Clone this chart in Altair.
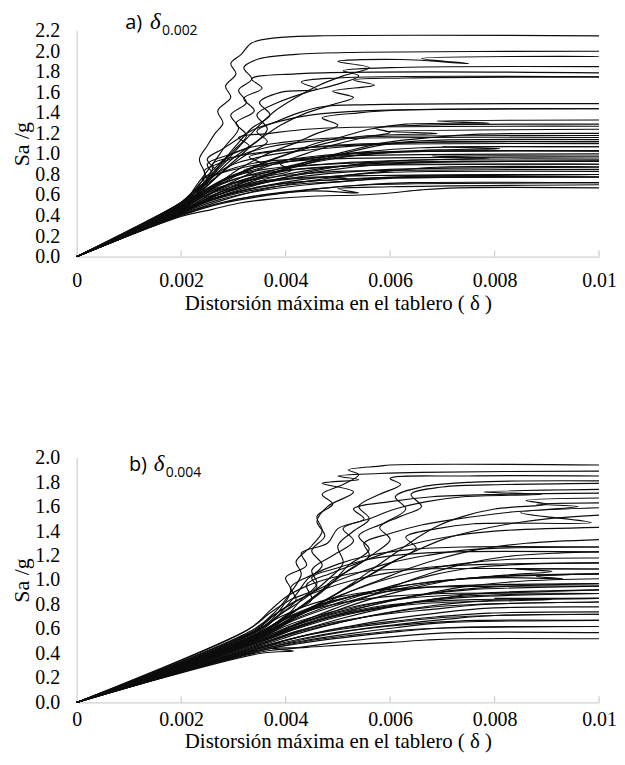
import altair as alt
import pandas as pd

# ---------------- data (x in units of 0.001, Sa/g) ----------------
X_TICKS = [0, 0.002, 0.004, 0.006, 0.008, 0.01]
Y_TICKS_A = [0, 0.2, 0.4, 0.6, 0.8, 1.0, 1.2, 1.4, 1.6, 1.8, 2.0, 2.2]
Y_TICKS_B = [0, 0.2, 0.4, 0.6, 0.8, 1.0, 1.2, 1.4, 1.6, 1.8, 2.0]
X_TITLE = "Distorsión máxima en el tablero ( δ )"
Y_TITLE = "Sa /g"

A01 = [(0,0),(2.1,0.52),(2.3,0.66),(2.45,0.8),(2.35,0.95),(2.5,1.08),(2.65,1.2),(2.8,1.3),(2.7,1.42),(2.95,1.55),(2.85,1.66),(3.05,1.78),(2.95,1.88),(3.15,1.97),(3.35,2.08),(3.8,2.13),(4.6,2.15),(10,2.15)]
A02 = [(0,0),(2.0,0.5),(2.3,0.7),(2.6,0.9),(2.85,1.08),(3.1,1.25),(2.95,1.38),(3.25,1.5),(3.1,1.62),(3.35,1.73),(3.2,1.84),(3.45,1.92),(4.2,1.97),(5.5,1.99),(10,2.0)]
A03 = [(0,0),(2.0,0.47),(2.5,0.74),(2.9,0.95),(3.2,1.12),(3.5,1.28),(3.8,1.42),(4.2,1.55),(4.6,1.66),(5.1,1.76),(5.6,1.84),(5.0,1.9),(6.2,1.92),(7.5,1.88),(6.6,1.93),(10,1.95)]
A04 = [(0,0),(2.0,0.46),(2.5,0.69),(2.9,0.88),(3.3,1.06),(3.65,1.24),(3.45,1.38),(3.85,1.5),(4.4,1.6),(5.0,1.68),(5.4,1.76),(5.1,1.81),(6.0,1.84),(10,1.85)]
A05 = [(0,0),(2.1,0.5),(2.4,0.67),(2.7,0.86),(3.0,1.03),(3.25,1.18),(3.05,1.3),(3.4,1.42),(3.2,1.54),(3.55,1.64),(3.35,1.73),(4.2,1.78),(10,1.79)]
A06 = [(0,0),(2.0,0.48),(2.6,0.77),(3.0,0.96),(3.5,1.14),(3.9,1.28),(4.4,1.4),(4.9,1.48),(5.3,1.55),(4.9,1.61),(5.7,1.67),(5.3,1.72),(6.3,1.74),(10,1.75)]
A07 = [(0,0),(2.0,0.47),(2.5,0.69),(2.9,0.87),(3.3,1.01),(3.65,1.12),(3.45,1.22),(3.85,1.32),(4.25,1.4),(4.7,1.46),(5.6,1.48),(10,1.49)]
A08 = [(0,0),(2.0,0.45),(2.6,0.67),(3.1,0.85),(3.6,0.99),(4.2,1.11),(4.6,1.2),(5.0,1.28),(4.7,1.35),(5.4,1.4),(6.4,1.43),(10,1.44)]
A09 = [(0,0),(2.0,0.46),(2.7,0.69),(3.4,0.87),(4.0,0.99),(4.5,1.09),(5.1,1.17),(5.6,1.24),(6.3,1.29),(7.9,1.3),(6.9,1.32),(10,1.33)]
A10 = [(0,0),(2.0,0.44),(2.8,0.68),(3.5,0.85),(4.2,0.97),(4.8,1.07),(5.5,1.16),(6.0,1.21),(5.7,1.25),(6.6,1.28),(10,1.29)]
A11 = [(0,0),(1.9,0.45),(2.5,0.65),(3.1,0.81),(3.7,0.94),(4.3,1.04),(4.9,1.12),(5.4,1.17),(6.9,1.2),(5.9,1.22),(10,1.24)]
A12 = [(0,0),(2.0,0.43),(2.8,0.64),(3.6,0.79),(4.4,0.92),(5.2,1.03),(5.9,1.11),(6.8,1.16),(7.6,1.19),(10,1.2)]
A13 = [(0,0),(2.0,0.5),(2.3,0.65),(2.6,0.8),(2.5,0.9),(2.9,0.99),(3.3,1.06),(3.9,1.11),(4.7,1.15),(5.8,1.17),(10,1.18)]
A14 = [(0,0),(2.0,0.42),(2.7,0.6),(3.4,0.74),(4.1,0.86),(4.8,0.96),(5.4,1.04),(6.0,1.1),(6.7,1.13),(10,1.14)]
A15 = [(0,0),(2.0,0.48),(2.5,0.65),(3.0,0.79),(3.6,0.89),(3.3,0.97),(4.0,1.04),(4.8,1.08),(6.4,1.11),(10,1.12)]
A16 = [(0,0),(2.0,0.44),(2.7,0.62),(3.4,0.76),(4.2,0.88),(5.0,0.96),(5.8,1.01),(6.9,1.04),(8.1,1.05),(7.0,1.07),(10,1.07)]
A17 = [(0,0),(2.0,0.46),(2.6,0.63),(3.2,0.75),(3.9,0.86),(4.6,0.94),(5.4,0.99),(6.3,1.02),(10,1.03)]
A18 = [(0,0),(2.0,0.43),(2.8,0.6),(3.6,0.72),(4.4,0.82),(5.2,0.89),(6.0,0.93),(7.9,0.96),(6.8,0.98),(10,0.98)]
A19 = [(0,0),(2.0,0.45),(2.7,0.6),(3.5,0.72),(4.3,0.8),(5.1,0.86),(5.9,0.9),(7.0,0.92),(10,0.93)]
A20 = [(0,0),(2.0,0.41),(2.8,0.55),(3.6,0.66),(4.5,0.74),(5.3,0.8),(6.1,0.84),(6.9,0.87),(10,0.875)]
A21 = [(0,0),(2.0,0.44),(2.7,0.58),(3.5,0.68),(4.3,0.75),(5.1,0.79),(5.9,0.82),(6.9,0.83),(10,0.83)]
A22 = [(0,0),(2.0,0.42),(2.7,0.55),(3.5,0.64),(4.4,0.7),(5.3,0.74),(6.2,0.77),(10,0.775)]
A23 = [(0,0),(2.0,0.4),(2.8,0.52),(3.7,0.6),(4.6,0.66),(5.5,0.7),(6.4,0.72),(10,0.72)]
A24 = [(0,0),(2.0,0.39),(2.6,0.46),(3.1,0.52),(3.7,0.56),(4.6,0.59),(5.4,0.6),(6.0,0.62),(6.6,0.65),(7.3,0.67),(10,0.67)]
A25 = [(0,0),(2.0,0.41),(2.8,0.53),(3.6,0.6),(4.5,0.64),(5.4,0.62),(5.0,0.66),(6.0,0.68),(10,0.7)]
A26 = [(0,0),(2.0,0.47),(2.5,0.6),(3.0,0.68),(3.6,0.74),(4.3,0.77),(5.6,0.79),(10,0.8)]
A27 = [(0,0),(2.0,0.5),(2.4,0.62),(2.9,0.7),(3.5,0.76),(4.2,0.8),(5.0,0.83),(6.0,0.84),(10,0.85)]
A28 = [(0,0),(2.0,0.52),(2.4,0.64),(2.8,0.72),(3.3,0.79),(4.0,0.84),(4.8,0.87),(5.7,0.89),(10,0.9)]
A29 = [(0,0),(2.0,0.48),(2.5,0.64),(3.0,0.75),(3.6,0.83),(4.3,0.88),(5.3,0.92),(6.4,0.94),(7.5,0.95),(10,0.95)]
A30 = [(0,0),(2.0,0.53),(2.3,0.66),(2.6,0.78),(3.0,0.86),(3.5,0.92),(4.2,0.95),(5.0,0.98),(10,1.0)]
A31 = [(0,0),(2.0,0.51),(2.35,0.66),(2.7,0.8),(2.6,0.9),(3.0,0.97),(3.6,1.02),(4.4,1.06),(5.6,1.09),(10,1.1)]
A32 = [(0,0),(2.0,0.52),(2.3,0.68),(2.6,0.84),(2.9,0.98),(3.3,1.08),(3.1,1.16),(3.7,1.2),(4.4,1.24),(5.3,1.26),(10,1.27)]
A33 = [(0,0),(2.1,0.55),(2.4,0.7),(2.6,0.86),(2.5,0.95),(2.8,1.05),(3.1,1.15),(3.4,1.24),(3.9,1.32),(4.5,1.38),(5.5,1.42),(10,1.44)]
A34 = [(0,0),(2.0,0.49),(2.3,0.6),(2.7,0.72),(3.2,0.81),(3.9,0.87),(4.8,0.9),(5.9,0.92),(10,0.93)]
A35 = [(0,0),(2.0,0.45),(2.5,0.58),(3.1,0.68),(3.8,0.74),(4.6,0.77),(5.2,0.76),(4.9,0.78),(5.8,0.79),(10,0.8)]
A36 = [(0,0),(2.0,0.43),(2.6,0.56),(3.3,0.66),(4.1,0.72),(5.0,0.75),(5.8,0.77),(10,0.775)]
A37 = [(0,0),(2.0,0.5),(2.4,0.7),(2.75,0.9),(3.05,1.08),(3.35,1.25),(3.7,1.38),(3.5,1.5),(3.9,1.6),(4.6,1.63),(4.3,1.7),(5.0,1.74),(10,1.75)]
A38 = [(0,0),(2.0,0.5),(2.2,0.6),(2.5,0.7),(2.4,0.76),(2.8,0.82),(3.3,0.88),(3.9,0.92),(4.7,0.95),(10,0.97)]
A39 = [(0,0),(2.0,0.47),(2.4,0.6),(2.9,0.7),(3.4,0.78),(3.2,0.84),(3.8,0.9),(4.5,0.96),(5.3,1.0),(6.2,1.02),(10,1.03)]
A40 = [(0,0),(2.0,0.44),(2.5,0.56),(3.0,0.65),(3.6,0.72),(4.3,0.78),(5.1,0.82),(6.0,0.85),(10,0.87)]
A41 = [(0,0),(2.0,0.46),(2.4,0.58),(2.9,0.68),(3.5,0.77),(4.1,0.84),(3.9,0.9),(4.6,0.96),(5.5,1.02),(6.6,1.06),(10,1.07)]
A42 = [(0,0),(2.0,0.42),(2.5,0.54),(3.1,0.63),(3.8,0.7),(4.6,0.74),(5.5,0.76),(6.3,0.78),(10,0.8)]
A43 = [(0,0),(2.0,0.51),(2.25,0.62),(2.5,0.74),(2.45,0.84),(2.8,0.92),(3.2,1.0),(3.7,1.07),(4.4,1.12),(5.2,1.15),(10,1.16)]
A44 = [(0,0),(2.0,0.45),(2.6,0.58),(3.2,0.69),(3.9,0.79),(4.7,0.86),(5.5,0.9),(6.5,0.92),(7.4,0.93),(10,0.93)]
A45 = [(0,0),(2.0,0.4),(2.6,0.5),(3.3,0.58),(4.0,0.63),(4.8,0.67),(5.6,0.7),(6.5,0.71),(10,0.72)]
A46 = [(0,0),(2.0,0.49),(2.4,0.63),(2.8,0.75),(3.3,0.85),(3.9,0.93),(4.6,0.98),(5.4,1.01),(6.8,1.03),(10,1.03)]
A47 = [(0,0),(2.0,0.48),(2.5,0.62),(3.0,0.72),(3.6,0.8),(4.4,0.86),(5.3,0.89),(6.2,0.9),(10,0.9)]
A48 = [(0,0),(2.0,0.53),(2.2,0.62),(2.45,0.72),(2.7,0.82),(3.0,0.9),(3.5,0.97),(4.1,1.02),(4.9,1.06),(6.0,1.1),(7.3,1.12),(10,1.12)]
A49 = [(0,0),(2.0,0.43),(2.6,0.55),(3.3,0.64),(4.1,0.7),(5.0,0.73),(5.9,0.76),(7.0,0.77),(10,0.775)]

B01 = [(0,0),(3.4,0.6),(3.8,0.74),(4.1,0.9),(4.3,1.05),(4.2,1.15),(4.5,1.28),(4.7,1.4),(4.6,1.52),(4.9,1.62),(4.7,1.7),(5.1,1.78),(5.4,1.86),(5.2,1.9),(5.8,1.93),(6.0,1.94),(10,1.94)]
B02 = [(0,0),(3.5,0.58),(3.9,0.73),(4.2,0.88),(4.4,1.0),(4.7,1.12),(4.5,1.24),(4.75,1.36),(4.6,1.48),(4.8,1.6),(5.3,1.72),(4.7,1.79),(5.4,1.82),(5.0,1.85),(5.8,1.87),(6.6,1.88),(10,1.89)]
B03 = [(0,0),(3.4,0.57),(3.9,0.72),(4.4,0.86),(4.8,1.0),(5.1,1.14),(5.0,1.28),(5.3,1.4),(5.6,1.5),(5.4,1.6),(5.8,1.7),(6.2,1.78),(6.0,1.83),(7.5,1.85),(10,1.85)]
B04 = [(0,0),(3.5,0.55),(4.0,0.7),(4.5,0.84),(4.9,0.98),(5.2,1.12),(5.6,1.25),(5.4,1.36),(5.9,1.47),(6.3,1.58),(6.1,1.68),(6.6,1.76),(7.6,1.8),(10,1.81)]
B05 = [(0,0),(3.6,0.57),(4.1,0.72),(4.6,0.88),(4.9,1.0),(5.3,1.1),(5.7,1.22),(6.0,1.33),(5.8,1.43),(6.2,1.52),(6.6,1.6),(6.4,1.7),(7.0,1.76),(8.2,1.78),(10,1.79)]
B06 = [(0,0),(3.5,0.56),(4.0,0.7),(4.3,0.84),(4.6,0.97),(4.5,1.08),(4.9,1.2),(5.3,1.32),(5.1,1.42),(5.6,1.5),(6.1,1.58),(6.7,1.64),(7.4,1.68),(8.9,1.7),(7.8,1.72),(10,1.74)]
B07 = [(0,0),(3.5,0.6),(3.9,0.76),(4.1,0.92),(4.0,1.02),(4.4,1.12),(4.3,1.22),(4.8,1.3),(5.0,1.42),(5.5,1.5),(5.3,1.58),(6.0,1.64),(6.8,1.68),(8.1,1.7),(10,1.71)]
B08 = [(0,0),(3.6,0.54),(4.2,0.7),(4.8,0.84),(5.3,0.98),(5.7,1.1),(6.1,1.22),(6.5,1.34),(6.9,1.44),(7.4,1.52),(8.0,1.58),(9.0,1.62),(8.6,1.65),(10,1.67)]
B09 = [(0,0),(3.4,0.55),(4.0,0.7),(4.4,0.82),(4.8,0.95),(5.2,1.08),(5.6,1.2),(5.5,1.3),(6.0,1.38),(6.6,1.45),(7.3,1.5),(8.2,1.55),(9.6,1.6),(8.8,1.62),(10,1.63)]
B10 = [(0,0),(3.5,0.53),(4.1,0.68),(4.7,0.82),(5.2,0.94),(5.7,1.06),(6.1,1.16),(6.5,1.26),(6.3,1.35),(6.9,1.42),(7.6,1.46),(9.85,1.47),(8.5,1.55),(10,1.59)]
B11 = [(0,0),(3.4,0.52),(4.0,0.66),(4.6,0.8),(5.1,0.92),(5.6,1.04),(6.0,1.14),(6.5,1.24),(7.0,1.33),(7.6,1.4),(8.3,1.46),(9.0,1.5),(10,1.53)]
B12 = [(0,0),(3.5,0.56),(4.0,0.71),(4.5,0.84),(4.4,0.96),(4.9,1.06),(5.4,1.14),(5.9,1.22),(6.5,1.3),(7.2,1.36),(8.0,1.4),(10,1.43)]
B13 = [(0,0),(3.5,0.54),(4.1,0.68),(4.7,0.8),(5.2,0.9),(5.8,1.0),(6.4,1.1),(7.0,1.18),(7.7,1.25),(8.6,1.3),(10,1.33)]
B14 = [(0,0),(3.4,0.58),(3.8,0.72),(4.3,0.85),(4.8,0.96),(5.4,1.06),(6.0,1.14),(6.7,1.2),(7.6,1.25),(10,1.27)]
B15 = [(0,0),(3.5,0.5),(4.2,0.64),(4.9,0.76),(5.6,0.87),(6.2,0.97),(6.8,1.06),(7.4,1.13),(8.2,1.19),(9.2,1.22),(10,1.23)]
B16 = [(0,0),(3.5,0.55),(4.1,0.69),(4.6,0.8),(5.2,0.9),(5.8,0.99),(6.5,1.07),(7.3,1.13),(8.3,1.17),(10,1.18)]
B17 = [(0,0),(3.4,0.52),(4.0,0.65),(4.7,0.77),(5.4,0.87),(6.1,0.96),(6.8,1.04),(7.6,1.1),(8.6,1.13),(10,1.14)]
B18 = [(0,0),(3.5,0.5),(4.2,0.63),(4.9,0.74),(5.6,0.84),(6.4,0.93),(7.2,1.0),(8.2,1.04),(9.1,1.07),(8.4,1.09),(10,1.09)]
B19 = [(0,0),(3.5,0.53),(4.1,0.66),(4.8,0.77),(5.5,0.86),(6.2,0.93),(7.0,0.99),(8.0,1.03),(10,1.05)]
B20 = [(0,0),(3.5,0.49),(4.3,0.62),(5.1,0.73),(5.9,0.82),(6.7,0.89),(7.5,0.95),(8.5,0.99),(10,1.01)]
B21 = [(0,0),(3.4,0.5),(4.1,0.62),(4.9,0.72),(5.7,0.8),(6.5,0.87),(7.3,0.92),(8.3,0.95),(10,0.97)]
B22 = [(0,0),(3.5,0.52),(4.2,0.64),(5.0,0.74),(5.8,0.82),(6.6,0.88),(7.5,0.92),(10,0.95)]
B23 = [(0,0),(3.5,0.47),(4.3,0.59),(5.1,0.69),(5.9,0.77),(6.8,0.84),(7.7,0.89),(10,0.92)]
B24 = [(0,0),(3.4,0.48),(4.2,0.6),(5.0,0.7),(5.8,0.77),(6.6,0.83),(7.5,0.87),(10,0.89)]
B25 = [(0,0),(3.5,0.46),(4.3,0.57),(5.1,0.66),(5.9,0.73),(6.8,0.79),(7.8,0.83),(10,0.85)]
B26 = [(0,0),(3.5,0.47),(4.2,0.57),(5.0,0.65),(5.8,0.72),(6.6,0.77),(7.6,0.8),(10,0.82)]
B27 = [(0,0),(3.5,0.44),(4.3,0.54),(5.2,0.62),(6.0,0.68),(6.9,0.73),(7.9,0.77),(10,0.78)]
B28 = [(0,0),(3.5,0.45),(4.3,0.54),(5.1,0.61),(6.0,0.66),(6.9,0.7),(7.9,0.73),(10,0.74)]
B29 = [(0,0),(3.5,0.43),(4.4,0.52),(5.3,0.59),(6.2,0.64),(7.1,0.68),(8.0,0.71),(10,0.72)]
B30 = [(0,0),(3.5,0.43),(4.3,0.5),(5.2,0.56),(6.1,0.61),(7.0,0.65),(10,0.67)]
B31 = [(0,0),(3.5,0.42),(4.4,0.49),(5.3,0.54),(6.2,0.58),(7.1,0.61),(10,0.62)]
B32 = [(0,0),(3.5,0.41),(4.1,0.44),(4.8,0.48),(5.6,0.52),(6.4,0.55),(7.2,0.57),(10,0.57)]
B33 = [(0,0),(3.5,0.4),(4.15,0.42),(3.7,0.44),(4.4,0.45),(5.1,0.47),(6.0,0.49),(6.7,0.51),(7.3,0.52),(10,0.52)]
B34 = [(0,0),(3.3,0.6),(3.7,0.75),(4.0,0.86),(4.4,0.95),(4.9,1.02),(5.5,1.07),(6.3,1.09),(10,1.09)]
B35 = [(0,0),(3.4,0.58),(3.9,0.7),(4.4,0.79),(5.0,0.86),(5.7,0.91),(6.6,0.94),(10,0.95)]
B36 = [(0,0),(3.5,0.56),(4.0,0.68),(4.6,0.77),(5.3,0.83),(6.1,0.87),(7.0,0.89),(10,0.89)]
B37 = [(0,0),(3.6,0.52),(4.3,0.63),(5.0,0.71),(5.8,0.77),(6.7,0.81),(9.1,0.84),(8.0,0.85),(10,0.85)]
B38 = [(0,0),(3.5,0.59),(3.9,0.72),(4.2,0.84),(4.1,0.94),(4.5,1.04),(5.0,1.13),(5.6,1.2),(6.4,1.25),(7.4,1.27),(10,1.27)]
B39 = [(0,0),(3.5,0.57),(4.0,0.69),(4.5,0.78),(5.1,0.85),(5.8,0.9),(6.7,0.94),(7.8,0.96),(10,0.97)]
B40 = [(0,0),(3.5,0.5),(4.2,0.61),(4.9,0.7),(5.7,0.77),(6.5,0.82),(7.5,0.86),(10,0.89)]
B41 = [(0,0),(3.4,0.55),(3.9,0.67),(4.5,0.77),(5.2,0.86),(5.9,0.93),(6.7,0.98),(7.7,1.02),(10,1.05)]
B42 = [(0,0),(3.5,0.48),(4.2,0.58),(5.0,0.66),(5.9,0.72),(6.8,0.76),(7.8,0.8),(10,0.82)]
B43 = [(0,0),(3.5,0.45),(4.3,0.54),(5.1,0.6),(6.0,0.65),(6.9,0.69),(8.0,0.71),(10,0.72)]
B44 = [(0,0),(3.4,0.59),(3.8,0.72),(4.2,0.83),(4.7,0.92),(5.3,1.0),(6.0,1.06),(6.9,1.11),(8.0,1.13),(10,1.14)]
B45 = [(0,0),(3.5,0.53),(4.1,0.64),(4.8,0.73),(5.5,0.8),(6.3,0.85),(7.3,0.88),(8.6,0.9),(10,0.92)]
B46 = [(0,0),(3.5,0.44),(4.3,0.52),(5.1,0.58),(5.9,0.62),(6.7,0.65),(7.7,0.67),(10,0.67)]
B47 = [(0,0),(3.5,0.42),(4.4,0.5),(5.3,0.55),(6.2,0.59),(7.2,0.61),(10,0.62)]
B48 = [(0,0),(3.6,0.56),(4.1,0.68),(4.7,0.79),(5.4,0.88),(6.2,0.95),(7.1,1.0),(8.2,1.02),(9.3,1.01),(8.8,1.03),(10,1.05)]
B49 = [(0,0),(3.5,0.51),(4.2,0.62),(4.9,0.71),(5.7,0.78),(6.6,0.82),(7.6,0.84),(10,0.85)]
B50 = [(0,0),(3.3,0.6),(3.7,0.73),(4.1,0.84),(4.6,0.94),(4.5,1.02),(5.0,1.1),(5.6,1.17),(6.3,1.21),(7.2,1.23),(10,1.23)]

CURVES_A = [A01, A02, A03, A04, A05, A06, A07, A08, A09, A10, A11, A12, A13, A14, A15, A16, A17, A18, A19,
            A20, A21, A22, A23, A24, A25, A26, A27, A28, A29, A30, A31, A32, A33, A34, A35, A36, A37,
            A38, A39, A40, A41, A42, A43, A44, A45, A46, A47, A48, A49]
CURVES_B = [B01, B02, B03, B04, B05, B06, B07, B08, B09, B10, B11, B12, B13, B14, B15, B16, B17, B18, B19,
            B20, B21, B22, B23, B24, B25, B26, B27, B28, B29, B30, B31, B32, B33, B34, B35, B36, B37, B38,
            B39, B40, B41, B42, B43, B44, B45, B46, B47, B48, B49, B50]


def build(curves):
    rows = []
    for ci, c in enumerate(curves):
        for pi, (x, y) in enumerate(c):
            rows.append({"c": ci, "i": pi, "x": x / 1000.0, "y": y})
    return pd.DataFrame(rows)


SERIF = "Liberation Serif"
AXIS_GREY = "#c4c4c4"


def panel(curves, ymax, yticks, h, letter, sub, title_xy, labelpad_x, titlepad_x, labelpad_y, tick_len):
    df = build(curves)
    xscale = alt.Scale(domain=[0, 0.01], nice=False, zero=True)
    yscale = alt.Scale(domain=[0, ymax], nice=False)
    xaxis = alt.Axis(
        values=X_TICKS, labelExpr="datum.value == 0 ? '0' : format(datum.value, '.3~f')",
        title=X_TITLE, ticks=False, grid=False, domainColor=AXIS_GREY, domainWidth=1,
        labelFont=SERIF, labelFontSize=20, labelColor="#000", labelPadding=labelpad_x,
        labelFlush=False, labelOverlap=False,
        titleFont=SERIF, titleFontSize=21, titleFontWeight="normal", titleColor="#000",
        titlePadding=titlepad_x)
    yaxis = alt.Axis(
        values=yticks, format=".1f", title=Y_TITLE, ticks=False, grid=False,
        domainColor=AXIS_GREY, domainWidth=1,
        labelFont=SERIF, labelFontSize=20, labelColor="#000", labelPadding=labelpad_y,
        labelOverlap=False, labelFlush=False,
        titleFont=SERIF, titleFontSize=22, titleFontWeight="normal", titleColor="#000",
        titlePadding=1)
    X = alt.X("x:Q", scale=xscale, axis=xaxis)
    Y = alt.Y("y:Q", scale=yscale, axis=yaxis)

    lines = alt.Chart(df).mark_line(
        color="#0d0d0d", strokeWidth=1.15, interpolate="catmull-rom", clip=True
    ).encode(x=X, y=Y, detail="c:N", order="i:Q")

    tdf = pd.DataFrame({"x": X_TICKS[1:], "y": [0] * 5, "y2": [tick_len] * 5})
    ticks = alt.Chart(tdf).mark_rule(color=AXIS_GREY, strokeWidth=1).encode(
        x=X, y=Y, y2="y2:Q")

    hdf = pd.DataFrame({"x": [title_xy[0]], "y": [title_xy[1]]})
    base = alt.Chart(hdf).encode(x=X, y=Y)
    t1 = base.mark_text(text=letter, font="Open Sans", fontSize=20, align="left",
                        baseline="alphabetic", color="#000")
    t2 = base.mark_text(text="δ", font=SERIF, fontStyle="italic", fontSize=23, align="left",
                        baseline="alphabetic", dx=25, color="#000")
    t3 = base.mark_text(text=sub, font="Open Sans", fontSize=14, align="left",
                        baseline="alphabetic", dx=37, dy=6, color="#000")
    return alt.layer(lines, ticks, t1, t2, t3).properties(width=525, height=h)


pa = panel(CURVES_A, 2.2, Y_TICKS_A, 227, "a)", "0.002", (0.00093, 2.22), 14, 2, 17, 0.06)
pb = panel(CURVES_B, 2.0, Y_TICKS_B, 246, "b)", "0.004", (0.001, 1.89), 7, 1, 17, 0.05)

chart = alt.vconcat(pa, pb, spacing=135).configure_view(stroke=None).properties(
    padding={"left": 3, "top": 0, "right": 0, "bottom": 0}
)

chart.save("out.html", embed_options={"renderer": "svg", "actions": False})
